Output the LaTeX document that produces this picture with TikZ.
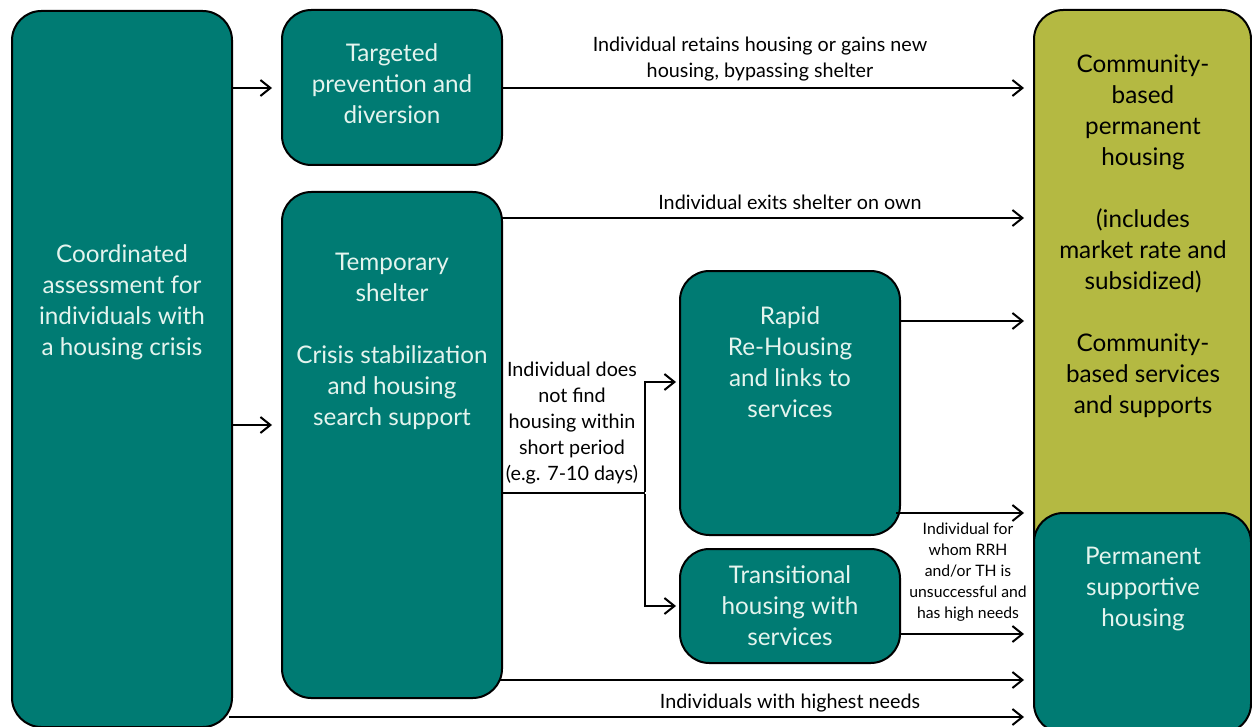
\documentclass[tikz,border=0pt]{standalone}
\usepackage{fontspec}
\setmainfont{Lato}
\usetikzlibrary{arrows.meta}
\definecolor{tealbox}{RGB}{0,123,115}
\definecolor{olivebox}{RGB}{180,185,66}
\definecolor{boxtext}{RGB}{228,244,238}
\tikzset{
  box/.style={draw=black, line width=1.5pt, rounded corners=22pt, fill=tealbox, inner sep=0pt, outer sep=0pt},
  oliv/.style={box, fill=olivebox},
  btext/.style={text=boxtext, align=center, inner sep=0pt, font=\fontsize{18.2}{23.25}\selectfont},
  ctext/.style={text=black, align=center, inner sep=0pt, font=\fontsize{18.2}{23.25}\selectfont},
  lab/.style={text=black, align=center, inner sep=0pt, font=\fontsize{14.8}{19.5}\selectfont},
  slab/.style={text=black, align=center, inner sep=0pt, font=\fontsize{11.8}{15.75}\selectfont},
  arr/.style={line width=1.5pt, -{Straight Barb[length=7.5pt,width=12pt,line width=1.5pt]}},
  ln/.style={line width=1.5pt},
}
\begin{document}
\begin{tikzpicture}[x=0.75pt,y=-0.75pt]
\useasboundingbox (0,0) rectangle (1252,727);
% boxes
\node[box, minimum width=165pt, minimum height=537pt] (coord) at (122,369) {};
\node[box, minimum width=165pt, minimum height=116.25pt] (targ) at (392,87.5) {};
\node[box, minimum width=165pt, minimum height=379.5pt] (temp) at (392,445) {};
\node[box, minimum width=165pt, minimum height=198pt] (rapid) at (790,403) {};
\node[box, minimum width=165pt, minimum height=85.5pt] (trans) at (790,606) {};
\node[oliv, minimum width=162.75pt, minimum height=540pt] (comm) at (1142.5,370) {};
\node[box, minimum width=162.75pt, minimum height=165pt] (psh) at (1142.5,623) {};
% box texts
\node[btext] (tcoord) at (122,302) {Coordinated\\assessment for\\individuals with\\a housing crisis};
\node[btext] (ttarg) at (392,84) {Targeted\\prevention and\\diversion};
\node[btext] (ttemp) at (392,341.5) {Temporary\\shelter\\[23.25pt]Crisis stabilization\\and housing\\search support};
\node[btext] (trapid) at (790,362.5) {Rapid\\Re-Housing\\and links to\\services};
\node[btext] (ttrans) at (790,606) {Transitional\\housing with\\services};
\node[btext] (tpsh) at (1143,589) {Permanent\\supportive\\housing};
\node[ctext] (tcomm) at (1143,236.5) {Community-\\based\\permanent\\housing\\[23.25pt](includes\\market rate and\\subsidized)\\[23.25pt]Community-\\based services\\and supports};
% connectors
\draw[arr, shorten >=7.5pt] (coord.east |- 0,88) -- (targ.west |- 0,88);
\draw[arr, shorten >=7.5pt] (coord.east |- 0,425) -- (temp.west |- 0,425);
\draw[arr, shorten >=7.5pt] (targ.east |- 0,88) -- (comm.west |- 0,88);
\draw[arr, shorten >=7.5pt] (temp.east |- 0,218) -- (comm.west |- 0,218);
\coordinate (split) at (645,493);
\draw[ln] (temp.east |- split) -- (split);
\draw[arr, shorten >=3pt] ([yshift=0.75pt]split) |- (rapid.west |- 0,382);
\draw[arr, shorten >=3pt] ([yshift=-0.75pt]split) |- (trans.west);
\draw[arr, shorten >=7.5pt] (rapid.east |- 0,321) -- (comm.west |- 0,321);
\draw[arr, shorten >=7.5pt] ([xshift=-3pt]rapid.east |- 0,513) -- (psh.west |- 0,513);
\draw[arr, shorten >=7.5pt] (trans.east |- 0,634) -- (psh.west |- 0,634);
\draw[arr, shorten >=7.5pt] ([xshift=-2pt]temp.east |- 0,680) -- (psh.west |- 0,680);
\draw[arr, shorten >=7.5pt] ([xshift=-2pt]coord.east |- 0,717) -- (psh.west |- 0,717);
% labels
\node[lab] (l1) at (760,59) {Individual retains housing or gains new\\housing, bypassing shelter};
\node[lab] (l2) at (790,202) {Individual exits shelter on own};
\node[lab] (l3) at (572,423) {Individual does\\not find\\housing within\\short period\\(e.g. 7-10 days)};
\node[slab] (l4) at (968,572) {Individual for\\whom RRH\\and/or TH is\\unsuccessful and\\has high needs};
\node[lab] (l5) at (790,703) {Individuals with highest needs};
\end{tikzpicture}
\end{document}
